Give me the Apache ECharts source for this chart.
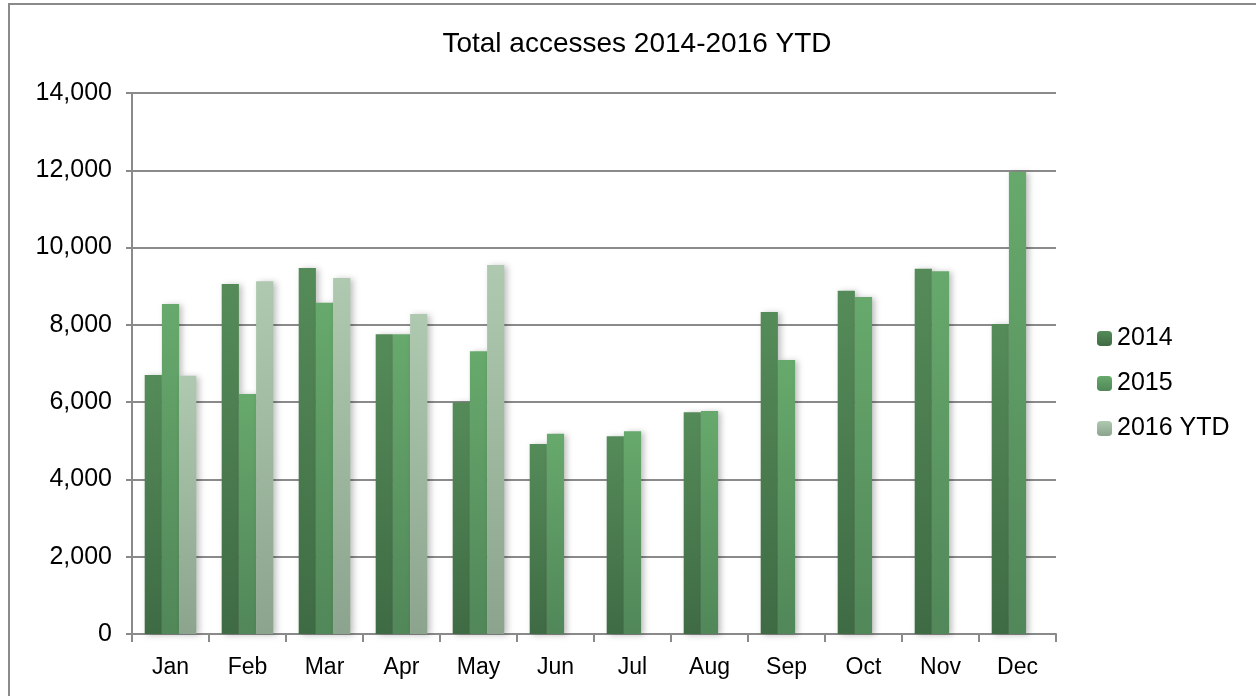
<!DOCTYPE html>
<html lang="en">
<head>
    <meta charset="UTF-8">
    <title>Total accesses 2014-2016 YTD</title>
    <script src="https://cdn.jsdelivr.net/npm/echarts@6/dist/echarts.min.js"></script>
    <style>
        html, body {
            height: 100%;
            padding: 0;
            margin: 0;
            background: #fff;
            overflow: hidden;
        }
        #frame {
            position: absolute;
            left: 8px;
            top: 3px;
            width: 1260px;
            height: 700px;
            border: 2px solid #8a8a8a;
        }
        #chart {
            position: absolute;
            left: 0;
            top: 0;
            width: 1256px;
            height: 696px;
        }
    </style>
</head>
<body>
<div id="frame"></div>
<div id="chart"></div>
<script>
    var months = ["Jan", "Feb", "Mar", "Apr", "May", "Jun", "Jul", "Aug", "Sep", "Oct", "Nov", "Dec"];
    var y2014 = [6700, 9060, 9470, 7760, 6000, 4920, 5120, 5740, 8330, 8880, 9450, 8020];
    var y2015 = [8540, 6210, 8570, 7760, 7320, 5180, 5250, 5770, 7090, 8720, 9390, 11960];
    var y2016 = [6680, 9130, 9210, 8280, 9550, null, null, null, null, null, null, null];

    var font = "Liberation Sans";

    function grad(top, bottom) {
        return new echarts.graphic.LinearGradient(0, 0, 0, 1, [
            {offset: 0, color: top},
            {offset: 1, color: bottom}
        ]);
    }

    function barSeries(name, data, top, bottom) {
        return {
            name: name,
            type: "bar",
            data: data,
            barGap: "0%",
            barCategoryGap: "33%",
            itemStyle: {
                color: grad(top, bottom),
                shadowColor: "rgba(0,0,0,0.25)",
                shadowBlur: 6,
                shadowOffsetX: 3,
                shadowOffsetY: 1
            }
        };
    }

    var myChart = echarts.init(document.getElementById("chart"));
    myChart.setOption({
        animation: false,
        title: {
            text: "Total accesses 2014-2016 YTD",
            left: 632,
            textAlign: "center",
            top: 25,
            textStyle: {
                fontFamily: font,
                fontWeight: "normal",
                fontSize: 28,
                color: "#000"
            }
        },
        legend: {
            orient: "vertical",
            left: 1092,
            top: 321,
            itemWidth: 15,
            itemHeight: 15,
            itemGap: 20,
            textStyle: {
                fontFamily: font,
                fontSize: 25,
                color: "#000"
            },
            data: ["2014", "2015", "2016 YTD"]
        },
        grid: {
            left: 132,
            top: 93,
            width: 924,
            height: 541
        },
        xAxis: {
            type: "category",
            data: months,
            axisLine: {lineStyle: {color: "#8a8a8a", width: 2}},
            axisTick: {show: true, length: 8, lineStyle: {color: "#8a8a8a", width: 2}},
            axisLabel: {
                margin: 22,
                fontFamily: font,
                fontSize: 23,
                color: "#000"
            }
        },
        yAxis: {
            type: "value",
            min: 0,
            max: 14000,
            interval: 2000,
            axisLine: {show: true, lineStyle: {color: "#8a8a8a", width: 2}},
            axisTick: {show: true, length: 6, lineStyle: {color: "#8a8a8a", width: 2}},
            axisLabel: {
                margin: 20,
                fontFamily: font,
                fontSize: 25,
                color: "#000",
                formatter: function (v) {
                    return v.toLocaleString("en-US");
                }
            },
            splitLine: {lineStyle: {color: "#8a8a8a", width: 2}}
        },
        series: [
            barSeries("2014", y2014, "#558b59", "#3f6b44"),
            barSeries("2015", y2015, "#67a96c", "#518759"),
            barSeries("2016 YTD", y2016, "#afc9b0", "#8ca48d")
        ]
    });
</script>
</body>
</html>
